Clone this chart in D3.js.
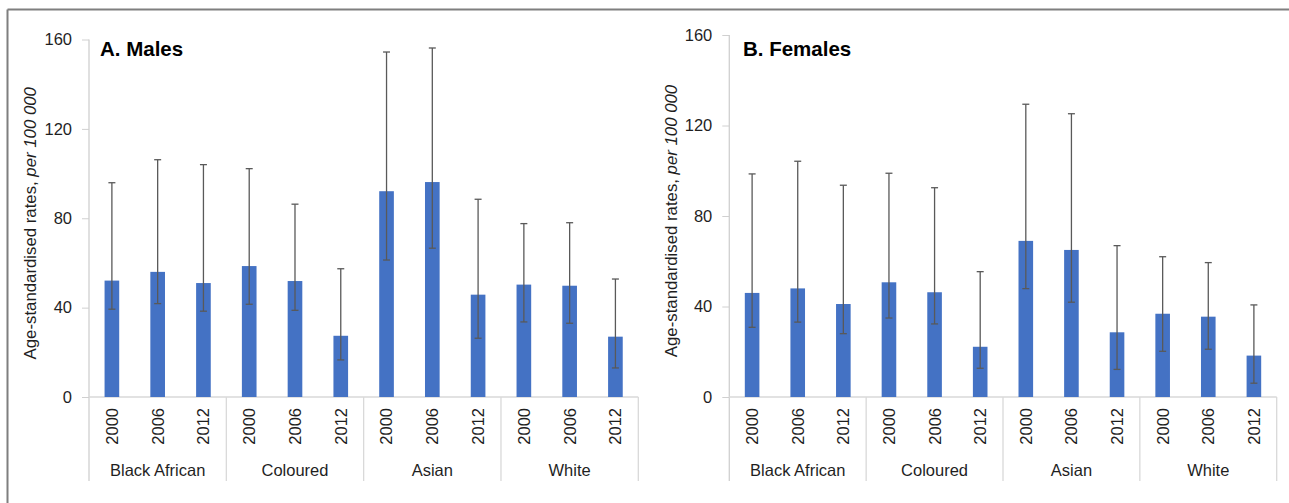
<!DOCTYPE html>
<html>
<head>
<meta charset="utf-8">
<script src="https://cdn.jsdelivr.net/npm/d3@7"></script>
<style>
  html, body { margin: 0; padding: 0; background: #fff; }
  svg { display: block; font-family: "Liberation Sans", Arial, sans-serif; }
</style>
</head>
<body>
<svg id="chart" width="1289" height="503"></svg>
<script>
// Population groups and survey years (x-axis categories)
const groups = ["Black African", "Coloured", "Asian", "White"];
const years = ["2000", "2006", "2012"];
const yTicks = [0, 40, 80, 120, 160];

// Age-standardised rates per 100 000, ordered group by group, year by year
const malesRate = [52.1, 56.0, 51.0, 58.6, 51.9, 27.4, 92.1, 96.2, 45.8, 50.3, 49.8, 27.0];
const malesLow  = [39.3, 41.8, 38.4, 41.5, 38.8, 16.6, 61.3, 66.6, 26.3, 33.6, 33.0, 13.0];
const malesHigh = [95.9, 106.2, 104.0, 102.2, 86.3, 57.4, 154.4, 156.2, 88.5, 77.6, 78.0, 52.8];

const femalesRate = [46.0, 48.0, 41.1, 50.7, 46.3, 22.2, 69.0, 65.0, 28.6, 36.8, 35.5, 18.3];
const femalesLow  = [30.8, 33.1, 28.0, 34.9, 32.3, 12.7, 47.9, 41.9, 12.2, 20.2, 21.1, 6.1];
const femalesHigh = [98.6, 104.2, 93.6, 98.9, 92.5, 55.4, 129.4, 125.2, 66.9, 62.0, 59.4, 40.7];

const svg = d3.select("#chart");

// Outer frame: top and left edges
svg.append("line").attr("x1", 7.5).attr("x2", 1289).attr("y1", 9.5).attr("y2", 9.5)
  .attr("stroke", "#7f7f7f").attr("stroke-width", 2);
svg.append("line").attr("x1", 7.5).attr("x2", 7.5).attr("y1", 9.5).attr("y2", 503)
  .attr("stroke", "#7f7f7f").attr("stroke-width", 2);

function panel(opts) {
  const { left, right, top, bottom, title, titleX, labelX, rate, low, high } = opts;
  const g = svg.append("g");
  const slots = [];
  groups.forEach(gr => years.forEach(yr => slots.push(gr + "|" + yr)));
  const data = slots.map((k, i) => ({
    key: k, group: k.split("|")[0], year: k.split("|")[1],
    v: rate[i], lo: low[i], hi: high[i]
  }));

  const x = d3.scaleBand().domain(slots).range([left, right]).padding(0);
  const xg = d3.scaleBand().domain(groups).range([left, right]).padding(0);
  const y = d3.scaleLinear().domain([0, 160]).range([bottom, top]);
  const bw = x.bandwidth() * 0.32;
  const sepBottom = 481;

  // Y axis with ticks and labels
  const yAxis = d3.axisLeft(y).tickValues(yTicks).tickSize(7).tickPadding(10);
  const ya = g.append("g").attr("transform", `translate(${left},0)`).call(yAxis);
  ya.select(".domain").remove();
  ya.selectAll(".tick line").attr("stroke", "#d0d0d0");
  ya.selectAll(".tick text").attr("font-size", 16.5).attr("fill", "#1f1f1f")
    .attr("font-family", "'Liberation Sans', Arial, sans-serif");

  // Axis lines and group separators
  g.append("line").attr("x1", left).attr("x2", left).attr("y1", y(160)).attr("y2", sepBottom)
    .attr("stroke", "#d0d0d0").attr("stroke-width", 1.3);
  g.append("line").attr("x1", left).attr("x2", right).attr("y1", y(0)).attr("y2", y(0))
    .attr("stroke", "#d9d9d9").attr("stroke-width", 1.3);
  groups.forEach((gr, i) => {
    const xx = xg(gr) + xg.bandwidth();
    g.append("line").attr("x1", xx).attr("x2", xx).attr("y1", y(0)).attr("y2", sepBottom)
      .attr("stroke", "#d9d9d9").attr("stroke-width", 1.3);
  });

  // Bars
  g.selectAll("rect.bar").data(data).enter().append("rect")
    .attr("class", "bar")
    .attr("x", d => x(d.key) + (x.bandwidth() - bw) / 2)
    .attr("width", bw)
    .attr("y", d => y(d.v))
    .attr("height", d => y(0) - y(d.v))
    .attr("fill", "#4472c4");

  // Error bars
  const eb = g.selectAll("g.err").data(data).enter().append("g").attr("class", "err")
    .attr("stroke", "#595959").attr("stroke-width", 1.3);
  const cx = d => x(d.key) + x.bandwidth() / 2;
  eb.append("line").attr("x1", cx).attr("x2", cx).attr("y1", d => y(d.lo)).attr("y2", d => y(d.hi));
  eb.append("line").attr("x1", d => cx(d) - 3.5).attr("x2", d => cx(d) + 3.5)
    .attr("y1", d => y(d.hi)).attr("y2", d => y(d.hi));
  eb.append("line").attr("x1", d => cx(d) - 3.5).attr("x2", d => cx(d) + 3.5)
    .attr("y1", d => y(d.lo)).attr("y2", d => y(d.lo));

  // Year labels (rotated)
  g.selectAll("text.year").data(data).enter().append("text")
    .attr("class", "year")
    .attr("transform", d => `translate(${cx(d)},${y(0) + 11}) rotate(-90)`)
    .attr("text-anchor", "end")
    .attr("dy", "0.36em")
    .attr("font-size", 16.5).attr("fill", "#1f1f1f")
    .text(d => d.year);

  // Group labels
  g.selectAll("text.grp").data(groups).enter().append("text")
    .attr("class", "grp")
    .attr("x", d => xg(d) + xg.bandwidth() / 2)
    .attr("y", 476)
    .attr("text-anchor", "middle")
    .attr("font-size", 16.5).attr("fill", "#1f1f1f")
    .text(d => d);

  // Panel title
  g.append("text").attr("x", titleX).attr("y", 56)
    .attr("font-size", 20.5).attr("font-weight", "bold").attr("fill", "#000")
    .text(title);

  // Y axis title
  const yl = g.append("text")
    .attr("transform", `translate(${labelX},${(top + bottom) / 2 + 5}) rotate(-90)`)
    .attr("text-anchor", "middle")
    .attr("dy", "0.35em")
    .attr("font-size", 16.8).attr("fill", "#1f1f1f");
  yl.append("tspan").text("Age-standardised rates, ");
  yl.append("tspan").attr("font-style", "italic").text("per 100 000");
}

panel({ left: 89, right: 638.3, top: 39.5, bottom: 397, title: "A. Males", titleX: 100, labelX: 30,
        rate: malesRate, low: malesLow, high: malesHigh });
panel({ left: 729.3, right: 1276.7, top: 35, bottom: 397, title: "B. Females", titleX: 743, labelX: 671,
        rate: femalesRate, low: femalesLow, high: femalesHigh });
</script>
</body>
</html>
